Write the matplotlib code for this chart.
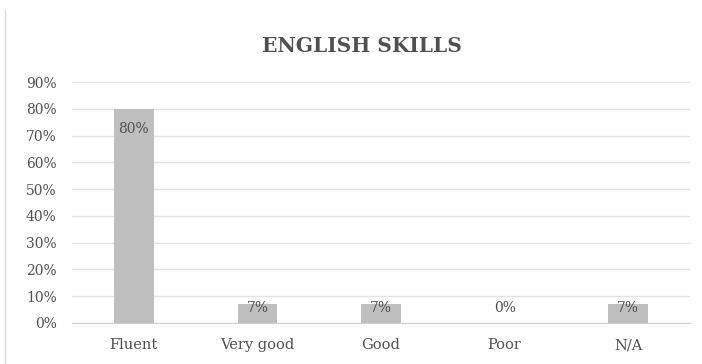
import matplotlib.pyplot as plt
from matplotlib.lines import Line2D

# data
categories = ['Fluent', 'Very good', 'Good', 'Poor', 'N/A']
shares = [0.80, 0.07, 0.07, 0.00, 0.07]
labels = ['80%', '7%', '7%', '0%', '7%']
ticks = [0.0, 0.1, 0.2, 0.3, 0.4, 0.5, 0.6, 0.7, 0.8, 0.9]

plt.rcParams['font.family'] = ['DejaVu Serif']

fig = plt.figure(figsize=(7.02, 3.64), dpi=100)
ax = fig.add_axes([72 / 702, 1 - 323 / 364, 618 / 702, (323 - 82) / 364])

x = range(len(categories))
ax.bar(x, shares, width=0.32, color='#bfbfbf', zorder=2)

# data labels, Excel-like "inside end"
for i, (v, lab) in enumerate(zip(shares, labels)):
    y = v - 0.075 if v > 0.2 else 0.055
    ax.text(i, y, lab, ha='center', va='center', fontsize=10, color='#505050', zorder=3)

ax.set_xlim(-0.5, len(categories) - 0.5)
ax.set_ylim(0, 0.9)
ax.set_yticks(ticks)
ax.set_yticklabels([f'{int(round(t * 100))}%' for t in ticks])
ax.set_xticks(list(x))
ax.set_xticklabels(categories)
ax.tick_params(axis='both', length=0, colors='#505050')
ax.tick_params(axis='x', pad=11, labelsize=10.5)
ax.tick_params(axis='y', pad=11, labelsize=10)

ax.grid(axis='y', color='#e3e3e3', linewidth=1, zorder=0)
for s in ['top', 'right', 'left']:
    ax.spines[s].set_visible(False)
ax.spines['bottom'].set_color('#d0d0d0')

fig.text(362 / 702, 1 - 46 / 364, 'ENGLISH SKILLS', ha='center', va='center',
         fontsize=14.5, fontweight='bold', color='#505050')

# chart border on the left
fig.add_artist(Line2D([5 / 702, 5 / 702], [0, 1 - 10 / 364], color='#d9d9d9', linewidth=1))

fig.savefig('out.png', dpi=100)
